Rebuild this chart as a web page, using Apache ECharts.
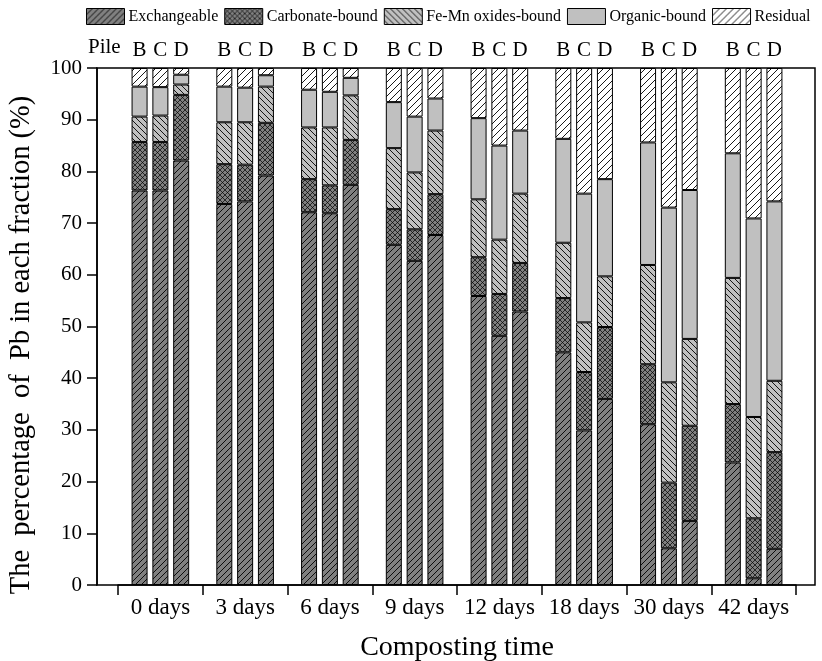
<!DOCTYPE html>
<html>
<head>
<meta charset="utf-8">
<script src="https://cdn.jsdelivr.net/npm/echarts@6/dist/echarts.min.js"></script>
<style>html,body{margin:0;padding:0;background:#fff}#c{width:822px;height:661px}</style>
</head>
<body>
<div id="c"></div>
<script>
const categories = ['0 days','3 days','6 days','9 days','12 days','18 days','30 days','42 days'];
const piles = ['B','C','D'];
const fractions = ['Exchangeable','Carbonate-bound','Fe-Mn oxides-bound','Organic-bound','Residual'];

const exchangeableB = [76.3, 73.7, 72.1, 65.8, 55.9, 45.0, 31.1, 23.7];
const exchangeableC = [76.3, 74.2, 71.9, 62.7, 48.2, 29.9, 7.1, 1.3];
const exchangeableD = [82.1, 79.2, 77.4, 67.7, 52.9, 36.0, 12.4, 7.0];
const carbonateB = [9.4, 7.7, 6.4, 6.9, 7.5, 10.5, 11.6, 11.3];
const carbonateC = [9.4, 7.1, 5.4, 6.1, 8.1, 11.3, 12.7, 11.6];
const carbonateD = [12.7, 10.2, 8.7, 7.9, 9.4, 13.9, 18.4, 18.7];
const feMnB = [4.9, 8.1, 10.0, 11.8, 11.2, 10.7, 19.2, 24.4];
const feMnC = [5.1, 8.2, 11.2, 11.0, 10.5, 9.6, 19.4, 19.6];
const feMnD = [2.0, 7.0, 8.6, 12.3, 13.4, 9.8, 16.8, 13.8];
const organicB = [5.8, 6.9, 7.3, 8.9, 15.7, 20.1, 23.7, 24.1];
const organicC = [5.5, 6.7, 6.9, 10.8, 18.2, 24.9, 33.8, 38.4];
const organicD = [1.9, 2.2, 3.4, 6.2, 12.2, 18.8, 28.8, 34.7];
const residualB = [3.6, 3.6, 4.2, 6.6, 9.7, 13.7, 14.4, 16.5];
const residualC = [3.7, 3.8, 4.6, 9.4, 15.0, 24.3, 27.0, 29.1];
const residualD = [1.3, 1.4, 1.9, 5.9, 12.1, 21.5, 23.6, 25.8];

const yTicks = [0, 10, 20, 30, 40, 50, 60, 70, 80, 90, 100];

const dataByFraction = [
  [exchangeableB, exchangeableC, exchangeableD],
  [carbonateB, carbonateC, carbonateD],
  [feMnB, feMnC, feMnD],
  [organicB, organicC, organicD],
  [residualB, residualC, residualD]
];

function makePattern(bg, p, dirs, lw) {
  const cv = document.createElement('canvas');
  cv.width = p; cv.height = p;
  const ctx = cv.getContext('2d');
  ctx.fillStyle = bg;
  ctx.fillRect(0, 0, p, p);
  ctx.strokeStyle = '#000';
  ctx.lineWidth = lw;
  dirs.forEach(function (d) {
    for (let k = -1; k <= 1; k++) {
      ctx.beginPath();
      if (d === '/') { ctx.moveTo(k * p, p); ctx.lineTo(k * p + p, 0); }
      else { ctx.moveTo(k * p, 0); ctx.lineTo(k * p + p, p); }
      ctx.stroke();
    }
  });
  return { image: cv, repeat: 'repeat' };
}

const fills = [
  makePattern('#808080', 6, ['/'], 0.9),
  makePattern('#808080', 5, ['/', '\\'], 0.7),
  makePattern('#c0c0c0', 6, ['\\'], 0.9),
  '#c0c0c0',
  makePattern('#ffffff', 7, ['/'], 0.9)
];

const FONT = 'Liberation Serif';
const series = [];
fractions.forEach(function (fr, fi) {
  piles.forEach(function (p, pi) {
    const s = {
      type: 'bar',
      name: fr,
      stack: p,
      xAxisIndex: 0,
      yAxisIndex: 0,
      barWidth: 16,
      barGap: '30%',
      data: dataByFraction[fi][pi],
      itemStyle: { color: fills[fi], borderColor: '#000', borderWidth: 1 },
      emphasis: { disabled: true },
      animation: false
    };
    if (fi === fractions.length - 1) {
      s.label = {
        show: true, position: 'top', distance: 7,
        formatter: p, color: '#000', fontFamily: FONT, fontSize: 21
      };
    }
    series.push(s);
  });
});

const chart = echarts.init(document.getElementById('c'), null, { renderer: 'canvas' });
chart.setOption({
  animation: false,
  backgroundColor: '#fff',
  textStyle: { fontFamily: FONT },
  legend: {
    data: fractions,
    left: 86, top: 8, width: 736, padding: 0,
    itemWidth: 38, itemHeight: 16, itemGap: 6,
    icon: 'rect',
    itemStyle: { borderColor: '#000', borderWidth: 1 },
    textStyle: { fontFamily: FONT, fontSize: 16, color: '#000', padding: [0, 0, 0, -1] },
    selectedMode: false
  },
  graphic: [
    {
      type: 'text', left: 88, top: 37,
      style: { text: 'Pile', font: '21px "Liberation Serif"', fill: '#000' }
    },
    {
      type: 'text', x: 22, y: 345, rotation: Math.PI / 2,
      style: {
        text: 'The  percentage  of  Pb in each fraction (%)',
        font: '28.5px "Liberation Serif"', fill: '#000',
        align: 'center', verticalAlign: 'middle'
      }
    }
  ],
  grid: [
    { left: 118, right: 26, top: 68, bottom: 76, outerBoundsMode: 'none', containLabel: false },
    { left: 97, right: 7, top: 68, bottom: 76, outerBoundsMode: 'none', containLabel: false, show: true, borderColor: '#000', borderWidth: 1.5, backgroundColor: 'transparent' }
  ],
  xAxis: [
    {
      type: 'category', gridIndex: 0, data: categories, boundaryGap: true,
      axisLine: { show: true, lineStyle: { color: '#000', width: 1.5 } },
      axisTick: { show: true, length: 10, interval: 0, lineStyle: { color: '#000', width: 1.5 } },
      axisLabel: { color: '#000', fontFamily: FONT, fontSize: 23, margin: 11, interval: 0 },
      name: 'Composting time', nameLocation: 'middle', nameGap: 49,
      nameTextStyle: { color: '#000', fontFamily: FONT, fontSize: 28 }
    },
    { type: 'value', gridIndex: 1, min: 0, max: 1, show: false }
  ],
  yAxis: [
    { type: 'value', gridIndex: 0, min: 0, max: 100, show: false },
    {
      type: 'value', gridIndex: 1, min: yTicks[0], max: yTicks[yTicks.length - 1], interval: 10,
      axisLine: { show: true, lineStyle: { color: '#000', width: 1.5 } },
      axisTick: { show: true, length: 10, lineStyle: { color: '#000', width: 1.5 } },
      splitLine: { show: false },
      axisLabel: { color: '#000', fontFamily: FONT, fontSize: 21, margin: 15 }
    }
  ],
  series: series
});
</script>
</body>
</html>
